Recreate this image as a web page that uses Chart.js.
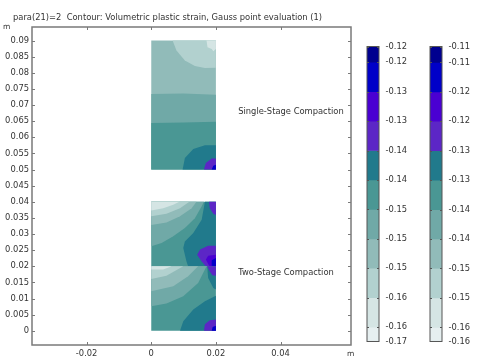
<!DOCTYPE html>
<html>
<head>
<meta charset="utf-8">
<title>Volumetric plastic strain</title>
<script src="https://cdn.jsdelivr.net/npm/chart.js@4"></script>
<style>
  html, body { margin: 0; padding: 0; background: #fff; }
  body { width: 481px; height: 363px; position: relative; overflow: hidden; }
  canvas { position: absolute; display: block; }
</style>
</head>
<body>
<canvas id="MainCanvas" width="481" height="363" style="left:0;top:0"></canvas>
<canvas id="BarCanvas1" width="60" height="318" style="left:360px;top:35px"></canvas>
<canvas id="BarCanvas2" width="50" height="318" style="left:423px;top:35px"></canvas>
<script>
const titleText = 'para(21)=2  Contour: Volumetric plastic strain, Gauss point evaluation (1)';
const xTicks = [-0.02, 0, 0.02, 0.04];
const yTicks = [0, 0.005, 0.01, 0.015, 0.02, 0.025, 0.03, 0.035, 0.04, 0.045, 0.05, 0.055, 0.06, 0.065, 0.07, 0.075, 0.08, 0.085, 0.09];
const noteLabels = ['Single-Stage Compaction', 'Two-Stage Compaction'];
const noteX = [0.0269, 0.0269];
const noteY = [0.0678, 0.018];

// Level colours, darkest band first (same order as the colour bars)
const levelColors = ['#00008f', '#0000c8', '#4a00d2', '#5c26c6', '#217a8c', '#4a9794', '#70a9a7', '#91bbb9', '#b2d1cf', '#d5e5e4', '#e6eff0'];

// Colour bar levels, top of bar to bottom of bar
const bar1Levels = [-0.1211, -0.1235, -0.128, -0.1325, -0.137, -0.1415, -0.146, -0.1505, -0.155, -0.1595, -0.164, -0.1662];
const bar2Levels = [-0.1113, -0.114, -0.119, -0.124, -0.129, -0.134, -0.139, -0.144, -0.149, -0.154, -0.159, -0.1614];

// Contour regions [level, outline in metres], painted in this order
const singleStage = [
    [7, [[0, 0.05], [0.02, 0.05], [0.02, 0.09], [0, 0.09]]],
    [8, [[0.0066, 0.09], [0.0078, 0.0869], [0.0104, 0.0838], [0.0135, 0.0821], [0.0166, 0.0815], [0.02, 0.0816], [0.02, 0.09]]],
    [9, [[0.0171, 0.09], [0.0174, 0.0879], [0.0187, 0.0874], [0.0192, 0.0867], [0.02, 0.0874], [0.02, 0.09]]],
    [6, [[0, 0.05], [0.02, 0.05], [0.02, 0.0732], [0.01, 0.0736], [0, 0.0734]]],
    [5, [[0, 0.05], [0.02, 0.05], [0.02, 0.0648], [0.01, 0.0646], [0, 0.0644]]],
    [4, [[0.0097, 0.05], [0.0104, 0.0536], [0.013, 0.0564], [0.0166, 0.0575], [0.02, 0.0575], [0.02, 0.05]]],
    [3, [[0.0163, 0.05], [0.0169, 0.052], [0.0187, 0.0534], [0.02, 0.0534], [0.02, 0.05]]],
    [1, [[0.0187, 0.05], [0.0192, 0.0512], [0.02, 0.0515], [0.02, 0.05]]]
];
const upperStage = [
    [5, [[0, 0.02], [0.02, 0.02], [0.02, 0.04], [0, 0.04]]],
    [4, [[0.0166, 0.04], [0.0156, 0.0344], [0.013, 0.0303], [0.0104, 0.0277], [0.0099, 0.0257], [0.0109, 0.0215], [0.0114, 0.02], [0.02, 0.02], [0.02, 0.04]]],
    [6, [[0, 0.0262], [0.0032, 0.0272], [0.0068, 0.0293], [0.0104, 0.0319], [0.0135, 0.0349], [0.0156, 0.0386], [0.0163, 0.04], [0, 0.04]]],
    [7, [[0, 0.0328], [0.0047, 0.0336], [0.0089, 0.0355], [0.0125, 0.038], [0.014, 0.04], [0, 0.04]]],
    [8, [[0, 0.0355], [0.0047, 0.0363], [0.0089, 0.038], [0.0118, 0.04], [0, 0.04]]],
    [9, [[0, 0.0373], [0.0037, 0.038], [0.0068, 0.0391], [0.0087, 0.04], [0, 0.04]]],
    [3, [[0.0179, 0.04], [0.0181, 0.038], [0.0192, 0.0363], [0.02, 0.0359], [0.02, 0.04]]],
    [3, [[0.02, 0.0264], [0.0176, 0.0264], [0.0151, 0.0252], [0.0142, 0.0236], [0.0156, 0.0215], [0.0169, 0.02], [0.02, 0.02]]],
    [2, [[0.02, 0.0236], [0.0176, 0.0233], [0.0169, 0.0221], [0.0179, 0.0202], [0.0187, 0.02], [0.02, 0.02]]],
    [1, [[0.02, 0.0226], [0.0187, 0.0219], [0.0187, 0.0202], [0.02, 0.02]]]
];
const lowerStage = [
    [5, [[0, 0], [0.02, 0], [0.02, 0.02], [0, 0.02]]],
    [4, [[0.0089, 0], [0.0099, 0.003], [0.013, 0.0066], [0.0166, 0.0092], [0.02, 0.0109], [0.02, 0]]],
    [6, [[0, 0.0076], [0.0047, 0.0085], [0.0099, 0.0107], [0.0145, 0.0148], [0.0171, 0.02], [0, 0.02]]],
    [7, [[0, 0.0123], [0.0068, 0.0138], [0.0114, 0.0169], [0.0145, 0.02], [0, 0.02]]],
    [8, [[0, 0.0161], [0.0047, 0.0171], [0.0099, 0.02], [0, 0.02]]],
    [9, [[0, 0.019], [0.0037, 0.019], [0.0063, 0.02], [0, 0.02]]],
    [4, [[0.0173, 0.02], [0.0176, 0.0164], [0.0192, 0.0133], [0.02, 0.0128], [0.02, 0.02]]],
    [3, [[0.0173, 0.02], [0.0181, 0.0185], [0.0189, 0.0172], [0.02, 0.0171], [0.02, 0.02]]],
    [3, [[0.0163, 0], [0.0166, 0.002], [0.0181, 0.0033], [0.02, 0.0035], [0.02, 0]]],
    [1, [[0.0187, 0], [0.019, 0.0012], [0.02, 0.0016], [0.02, 0]]]
];

const fontFamily = '"DejaVu Sans", sans-serif';
const fontSize = 8.35;
const textColor = '#333';
const frameColor = '#7a7a7a';

// Inward tick marks and the closed frame, so it is drawn on all four sides like the original
const frameTicks = {
    id: 'frameTicks',
    afterDraw(chart, args, opts)
    {
        const ctx = chart.ctx;
        const a = chart.chartArea;
        ctx.save();
        ctx.strokeStyle = opts.color;
        ctx.lineWidth = opts.width;
        ctx.strokeRect(a.left, a.top, a.right - a.left, a.bottom - a.top);
        ctx.lineWidth = 1;
        ctx.beginPath();
        Object.values(chart.scales).forEach(scale =>
        {
            if (scale.options.display === false) return;
            scale.ticks.forEach(t =>
            {
                const p = Math.round(scale.getPixelForValue(t.value)) + 0.5;
                if (scale.isHorizontal())
                {
                    ctx.moveTo(p, a.bottom);
                    ctx.lineTo(p, a.bottom - opts.length);
                    ctx.moveTo(p, a.top);
                    ctx.lineTo(p, a.top + opts.length);
                }
                else
                {
                    ctx.moveTo(a.left, p);
                    ctx.lineTo(a.left + opts.length, p);
                    ctx.moveTo(a.right, p);
                    ctx.lineTo(a.right - opts.length, p);
                }
            });
        });
        ctx.stroke();
        ctx.restore();
    }
};

// Title, axis units and the two annotations next to the geometry
const notes = {
    id: 'notes',
    afterDraw(chart)
    {
        const ctx = chart.ctx;
        const a = chart.chartArea;
        ctx.save();
        ctx.fillStyle = textColor;
        ctx.font = fontSize + 'px ' + fontFamily;
        ctx.textBaseline = 'middle';
        ctx.fillText(titleText, 13, 18);
        noteLabels.forEach((label, i) =>
        {
            ctx.fillText(label, chart.scales.x.getPixelForValue(noteX[i]), chart.scales.y.getPixelForValue(noteY[i]));
        });
        ctx.font = '7.5px ' + fontFamily;
        ctx.fillText('m', 3, a.top);
        ctx.fillText('m', a.right - 4, 354);
        ctx.restore();
    }
};

const regions = [...singleStage, ...upperStage, ...lowerStage];

new Chart(document.getElementById('MainCanvas'),
{
    type: 'scatter',
    data:
    {
        datasets: regions.map((region, i) =>
        ({
            data: region[1].map(p => ({ x: p[0], y: p[1] })),
            showLine: true,
            fill: 'shape',
            backgroundColor: levelColors[region[0]],
            borderWidth: 0,
            pointRadius: 0,
            tension: 0,
            order: regions.length - i
        }))
    },
    options:
    {
        responsive: false,
        animation: false,
        events: [],
        layout: { padding: { left: 0, right: 130, top: 27, bottom: 0 } },
        plugins:
        {
            legend: { display: false },
            tooltip: { enabled: false },
            frameTicks: { color: frameColor, width: 1.5, length: 3 }
        },
        scales:
        {
            x:
            {
                type: 'linear',
                min: -0.0369,
                max: 0.0618,
                afterBuildTicks: scale => { scale.ticks = xTicks.map(v => ({ value: v })); },
                afterFit: scale => { scale.height = 18; },
                grid: { display: false, drawTicks: false },
                border: { display: false },
                ticks: { color: textColor, font: { family: fontFamily, size: fontSize }, padding: 4, maxRotation: 0, autoSkip: false, callback: v => String(v) }
            },
            y:
            {
                type: 'linear',
                min: -0.0044,
                max: 0.0942,
                afterBuildTicks: scale => { scale.ticks = yTicks.map(v => ({ value: v })); },
                afterFit: scale => { scale.width = 32; },
                grid: { display: false, drawTicks: false },
                border: { display: false },
                ticks: { color: textColor, font: { family: fontFamily, size: fontSize }, padding: 3, autoSkip: false, callback: v => String(v) }
            }
        }
    },
    plugins: [frameTicks, notes]
});

function ColorBar(id, levels, axisWidth)
{
    new Chart(document.getElementById(id),
    {
        type: 'bar',
        data:
        {
            labels: [''],
            datasets: levelColors.map((color, i) =>
            ({
                data: [[levels[i + 1], levels[i]]],
                backgroundColor: color,
                borderWidth: 0,
                barPercentage: 1,
                categoryPercentage: 1,
                grouped: false
            }))
        },
        options:
        {
            responsive: false,
            animation: false,
            events: [],
            layout: { padding: { left: 7, right: 0, top: 10, bottom: 11 } },
            plugins:
            {
                legend: { display: false },
                tooltip: { enabled: false },
                frameTicks: { color: '#555', width: 1, length: 2 }
            },
            scales:
            {
                x: { display: false },
                y:
                {
                    position: 'right',
                    min: levels[levels.length - 1],
                    max: levels[0],
                    afterBuildTicks: scale => { scale.ticks = levels.map(v => ({ value: v })); },
                    afterFit: scale => { scale.width = axisWidth; },
                    grid: { display: false, drawTicks: false },
                    border: { display: false },
                    ticks: { color: textColor, font: { family: fontFamily, size: fontSize }, padding: 6.5, autoSkip: false, callback: v => v.toFixed(2) }
                }
            }
        },
        plugins: [frameTicks]
    });
}

ColorBar('BarCanvas1', bar1Levels, 41);
ColorBar('BarCanvas2', bar2Levels, 31);
</script>
</body>
</html>
